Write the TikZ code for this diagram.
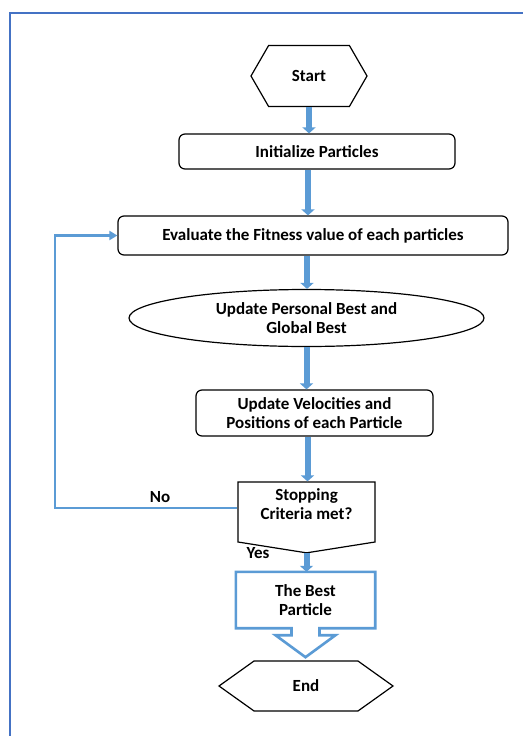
\documentclass[tikz,border=0pt]{standalone}
\usepackage{fontspec}
\setmainfont{Carlito}
\usetikzlibrary{shapes.symbols,shapes.geometric,arrows.meta,calc}

\definecolor{flowblue}{RGB}{91,155,213}
\definecolor{frameblue}{RGB}{68,114,196}

\begin{document}
\begin{tikzpicture}[x=1pt,y=-1pt,
    every node/.style={font=\fontsize{17}{19}\selectfont\bfseries, align=center},
    hexa/.style={signal, signal to=east and west, draw=black, line width=1.2pt, inner sep=0pt},
    proc/.style={rectangle, rounded corners=6pt, draw=black, line width=1.2pt, inner sep=0pt},
    flow/.style={draw=flowblue, line width=6pt, -{Triangle[width=13pt,length=6pt]}},
    loopline/.style={draw=flowblue, line width=2.6pt},
    lbl/.style={inner sep=0pt}]

    \useasboundingbox (0,0) rectangle (523,736);
    \draw[frameblue, line width=2.6pt] (10,736) -- (10,13) -- (523,13);

    \node[hexa, signal pointer angle=120, minimum width=116pt, minimum height=61pt] (start) at (309,76) {Start};
    \node[proc, minimum width=276pt, minimum height=35pt] (init) at (317,151.5) {Initialize Particles};
    \node[proc, minimum width=390pt, minimum height=39pt] (eval) at (313,235.5) {Evaluate the Fitness value of each particles};
    \node[ellipse, draw=black, line width=1.2pt, inner sep=0pt, minimum width=355pt, minimum height=57pt] (upbest) at (306.5,318) {Update Personal Best and\\ Global Best};
    \node[proc, minimum width=237pt, minimum height=46pt] (upvel) at (314.5,413) {Update Velocities and\\ Positions of each Particle};
    \node[signal, signal to=south, signal from=nowhere, signal pointer angle=162, draw=black, line width=1.2pt, inner sep=0pt, minimum width=137pt, minimum height=60pt] (stop) at (306.5,512) {};
    \node[lbl] (stoptext) at ($(stop.center)+(0,-8)$) {Stopping\\ Criteria met?};
    \node[rectangle, inner sep=0pt, minimum width=139pt, minimum height=56pt] (best) at (305.5,600) {The Best\\ Particle};
    \node[hexa, signal pointer angle=71, minimum width=174pt, minimum height=50pt] (end) at (306,686) {End};

    % outline of the best particle box
    \draw[flowblue, line width=2.6pt] (best.south west) -- (best.north west) -- (best.north east) -- (best.south east)
        -- ($(best.south)+(14,0)$) -- ($(best.south)+(14,7)$) -- ($(best.south)+(30,7)$) -- ($(best.south)+(0,29)$)
        -- ($(best.south)+(-30,7)$) -- ($(best.south)+(-14,7)$) -- ($(best.south)+(-14,0)$) -- cycle;

    \coordinate (a2) at ($(init.south)+(-9,0)$);
    \coordinate (a3) at ($(eval.south)+(-6,0)$);
    \coordinate (a5) at ($(upvel.south)+(-7,0)$);
    \draw[flow] (start.south) -- (start.south |- init.north);
    \draw[flow] (a2) -- (a2 |- eval.north);
    \draw[flow] (a3) -- (a3 |- upbest.north);
    \draw[flow] (upbest.south) -- (upbest.south |- upvel.north);
    \draw[flow] (a5) -- (a5 |- stop.north);
    \draw[flow] (stop.south) -- (stop.south |- best.north);

    \coordinate (bend) at (55,508);
    \draw[loopline, -{Triangle[width=9pt,length=8pt]}] (stop.west |- bend) -- (bend) -- (bend |- eval.west) -- (eval.west);

    \node[lbl] (no) at (160,497) {No};
    \node[lbl] (yes) at (258,553) {Yes};
\end{tikzpicture}
\end{document}
